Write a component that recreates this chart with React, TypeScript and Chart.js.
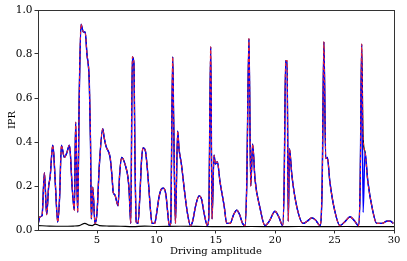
import React, { useEffect, useRef } from "react";
import { Chart, registerables } from "chart.js";

Chart.register(...registerables);

const xMain = [
  0.05, 0.2, 0.37, 0.57, 0.76, 0.93, 1.05, 1.27, 1.35, 1.5, 1.69, 1.85, 2.0, 2.25, 2.45, 2.67, 2.75, 2.9, 3.09, 3.2, 3.37, 3.5, 3.65, 3.85, 4.0, 4.15, 4.35, 4.45, 4.52, 4.64, 4.83,
  5.0, 5.2, 5.48, 5.6, 5.76, 6.1, 6.25, 6.37, 6.5, 6.77, 6.9, 7.08, 7.38, 7.6, 7.7, 7.84, 7.97, 8.1, 8.2, 8.3, 8.45, 8.6, 8.75, 8.87, 9.07, 9.2, 9.35, 9.5, 9.63, 9.85,
  10.0, 10.22, 10.4, 10.6, 10.8, 10.95, 11.08, 11.2, 11.37, 11.45, 11.6, 11.79, 11.9, 12.1, 12.38, 12.6, 12.86, 13.05, 13.3, 13.59, 13.8, 14.0, 14.29, 14.4, 14.57, 14.68, 14.85, 14.96,
  15.13, 15.35, 15.7, 15.92, 16.2, 16.5, 16.76, 17.0, 17.25, 17.46, 17.6, 17.79, 17.94, 18.1, 18.3, 18.72, 19.14, 19.5, 19.98,
  20.3, 20.63, 20.75, 20.88, 21.0, 21.1, 21.2, 21.4, 21.8, 22.36, 22.7, 23.07, 23.4, 23.77, 23.95, 24.1, 24.25, 24.39, 24.6, 25.0, 25.45, 25.9, 26.3, 26.7, 27.0, 27.15, 27.28, 27.4, 27.56, 27.8,
  28.2, 28.54, 29.0, 29.4, 29.7, 29.94,
];

const iprExact = [
  0.03, 0.06, 0.065, 0.26, 0.07, 0.2, 0.24, 0.385, 0.35, 0.2, 0.036, 0.15, 0.385, 0.33, 0.35, 0.385, 0.35, 0.2, 0.09, 0.49, 0.08, 0.6, 0.935, 0.9, 0.9, 0.8, 0.67, 0.4, 0.05, 0.195, 0.03,
  0.08, 0.3, 0.46, 0.42, 0.38, 0.33, 0.25, 0.17, 0.16, 0.11, 0.25, 0.33, 0.295, 0.24, 0.18, 0.03, 0.787, 0.76, 0.3, 0.036, 0.03, 0.15, 0.32, 0.373, 0.36, 0.3, 0.2, 0.09, 0.03, 0.03,
  0.07, 0.15, 0.185, 0.19, 0.16, 0.08, 0.02, 0.03, 0.787, 0.5, 0.03, 0.45, 0.37, 0.3, 0.17, 0.08, 0.02, 0.04, 0.11, 0.155, 0.14, 0.08, 0.02, 0.05, 0.833, 0.05, 0.34, 0.3,
  0.31, 0.22, 0.11, 0.03, 0.03, 0.07, 0.09, 0.07, 0.03, 0.02, 0.2, 0.87, 0.2, 0.39, 0.23, 0.1, 0.02, 0.04, 0.085,
  0.06, 0.02, 0.2, 0.77, 0.77, 0.04, 0.37, 0.25, 0.11, 0.03, 0.04, 0.055, 0.045, 0.02, 0.2, 0.855, 0.325, 0.33, 0.22, 0.09, 0.02, 0.04, 0.06, 0.04, 0.02, 0.2, 0.845, 0.42, 0.355, 0.22,
  0.09, 0.03, 0.03, 0.04, 0.04, 0.03,
];

// blue series: same as exact except a few spike details
const iprBlue = iprExact.map((v, i) => (xMain[i] === 27.4 ? 0.08 : v));

const xBase = [0.05, 1, 2, 3, 3.5, 3.98, 4.3, 4.6, 4.85, 5.2, 6, 7, 8, 9, 10, 12, 14, 16, 18, 20, 22, 24, 26, 28, 30];
const iprBase = [0.02, 0.018, 0.017, 0.018, 0.02, 0.03, 0.022, 0.02, 0.027, 0.02, 0.018, 0.017, 0.015, 0.018, 0.016, 0.017, 0.016, 0.015, 0.016, 0.015, 0.016, 0.015, 0.016, 0.015, 0.015];

const xTicks = [5, 10, 15, 20, 25, 30];
const yTicks = [0, 0.2, 0.4, 0.6, 0.8, 1.0];

const pts = (xs: number[], ys: number[]) => xs.map((x, i) => ({ x, y: ys[i] }));

const frame = {
  id: "frame",
  afterDatasetsDraw(chart: any) {
    const { ctx, chartArea } = chart;
    ctx.save();
    ctx.strokeStyle = "#333";
    ctx.lineWidth = 1;
    ctx.strokeRect(Math.round(chartArea.left) + 0.5, Math.round(chartArea.top) + 0.5, Math.round(chartArea.right - chartArea.left), Math.round(chartArea.bottom - chartArea.top));
    ctx.restore();
  },
};

export default function App() {
  const ref = useRef<HTMLCanvasElement>(null);
  useEffect(() => {
    document.body.style.margin = "0";
    Chart.defaults.font.family = "'DejaVu Serif', serif";
    Chart.defaults.color = "#000";
    const common = { pointRadius: 0, cubicInterpolationMode: "monotone" };
    const chart = new Chart(ref.current!, {
      type: "line",
      data: {
        datasets: [
          { ...common, data: pts(xBase, iprBase), borderColor: "#000", borderWidth: 1.2, order: 4 },
          { ...common, data: pts(xMain, iprExact), borderColor: "#000", borderWidth: 1.2, order: 3 },
          { ...common, data: pts(xMain, iprBlue), borderColor: "#0000ff", borderWidth: 1.4, order: 2 },
          { ...common, data: pts(xMain, iprExact), borderColor: "rgba(255,40,40,0.9)", borderWidth: 1.1, borderDash: [3, 2.5], order: 1 },
        ],
      },
      options: {
        animation: false,
        responsive: false,
        maintainAspectRatio: false,
        layout: { padding: { top: 10, right: 13, left: 0, bottom: 0 } },
        plugins: { legend: { display: false }, tooltip: { enabled: false } },
        scales: {
          x: {
            type: "linear",
            min: 0.03,
            max: 30,
            afterBuildTicks: (s: any) => { s.ticks = xTicks.map((v) => ({ value: v })); },
            afterFit: (s: any) => { s.height = 31; },
            grid: { display: true, drawOnChartArea: false, drawTicks: true, tickLength: 3.5, color: "#333" },
            border: { display: false },
            ticks: { font: { size: 10 }, padding: 1, maxRotation: 0, autoSkip: false, callback: (v: any) => String(v) },
            title: { display: true, text: "Driving amplitude", font: { size: 10 }, padding: { top: 0, bottom: 4 } },
          },
          y: {
            min: 0,
            max: 1,
            afterBuildTicks: (s: any) => { s.ticks = yTicks.map((v) => ({ value: v })); },
            afterFit: (s: any) => { s.width = 38; },
            grid: { display: true, drawOnChartArea: false, drawTicks: true, tickLength: 3.5, color: "#333" },
            border: { display: false },
            ticks: { font: { size: 10.5 }, padding: 2, callback: (v: any) => Number(v).toFixed(1) },
            title: { display: true, text: "IPR", font: { size: 10 }, padding: { top: 6, bottom: 0 } },
          },
        },
      },
      plugins: [frame],
    } as any);
    return () => chart.destroy();
  }, []);
  return <canvas ref={ref} width={407} height={261} style={{ display: "block" }} />;
}
